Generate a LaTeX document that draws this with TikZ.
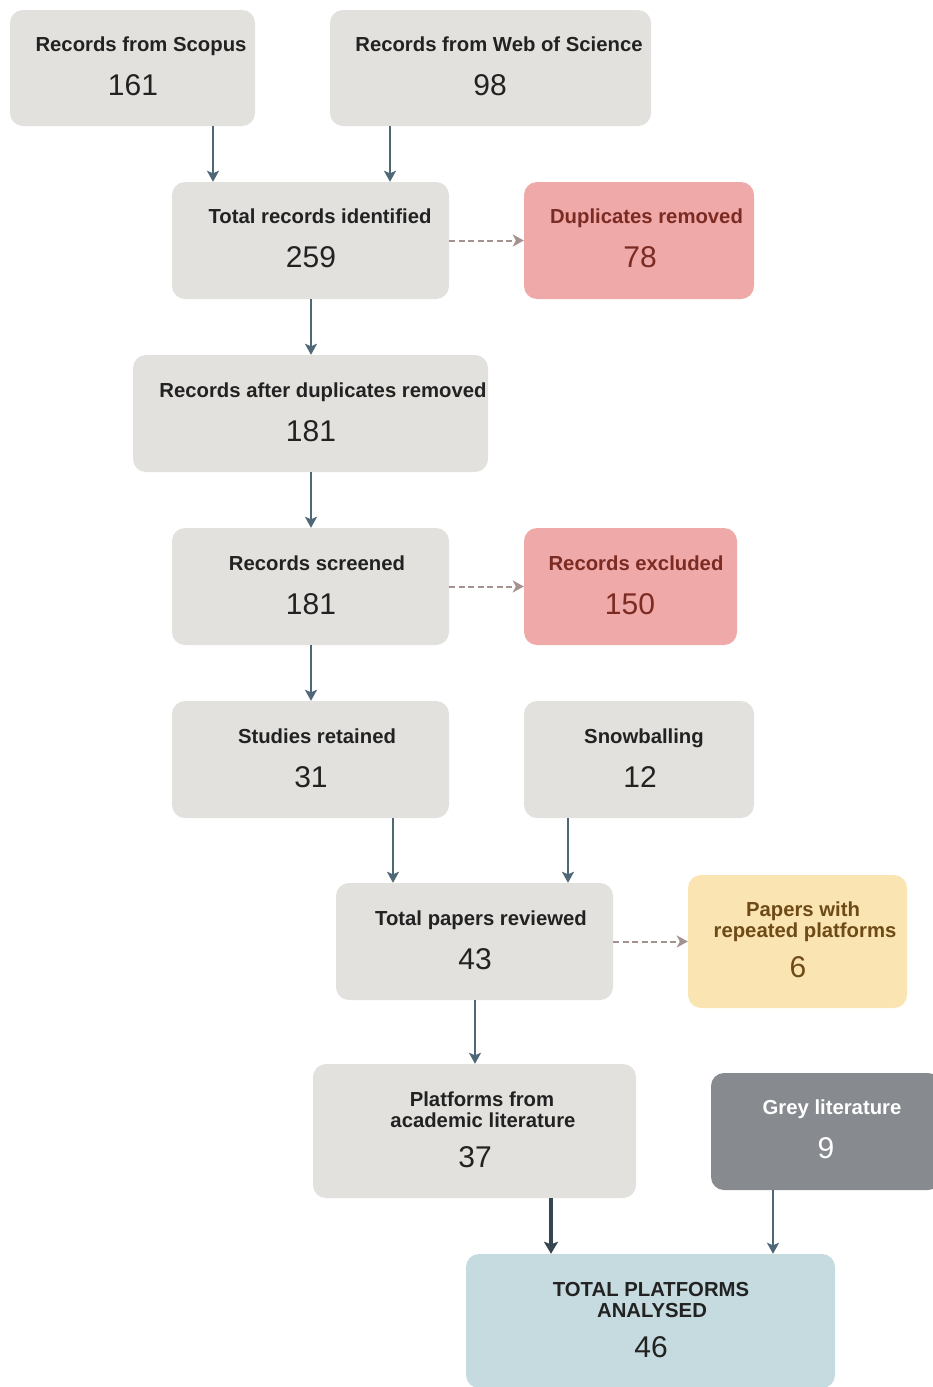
\documentclass[tikz,border=0pt]{standalone}
\usepackage{fontspec}
\setmainfont{Liberation Sans}
\usetikzlibrary{arrows.meta}
\definecolor{boxgrey}{HTML}{E2E1DD}
\definecolor{txtdark}{HTML}{222222}
\definecolor{pinkfill}{HTML}{EFA9A9}
\definecolor{pinktxt}{HTML}{7B2B22}
\definecolor{yelfill}{HTML}{FAE5B2}
\definecolor{yeltxt}{HTML}{6E4A16}
\definecolor{darkfill}{HTML}{878B8F}
\definecolor{bluefill}{HTML}{C5DBE0}
\definecolor{arrcol}{HTML}{4F6878}
\definecolor{dashcol}{HTML}{A39290}
\definecolor{thickcol}{HTML}{364650}
\tikzset{
  box/.style={rectangle, rounded corners=13pt, draw=none, inner sep=0pt, fill=boxgrey},
  pinkbox/.style={box, fill=pinkfill},
  yelbox/.style={box, fill=yelfill},
  darkbox/.style={box, fill=darkfill},
  bluebox/.style={box, fill=bluefill},
  ttl/.style={anchor=base, inner sep=0pt, text=txtdark, font=\fontsize{20.3}{21}\selectfont\bfseries},
  num/.style={anchor=base, inner sep=0pt, text=txtdark, font=\fontsize{30}{30}\selectfont},
  arr/.style={draw=arrcol, line width=2.6pt, -{Stealth[length=11pt,width=12pt,inset=2.5pt]}},
  thickarr/.style={draw=thickcol, line width=4.5pt, -{Stealth[length=12pt,width=14pt,inset=2.5pt]}},
  dasharr/.style={draw=dashcol, line width=2pt, dash pattern=on 6pt off 3.5pt, -{Stealth[length=11pt,width=12pt,inset=3pt]}},
}
\begin{document}
\begin{tikzpicture}[x=1pt, y=-1pt]
\useasboundingbox (0,0) rectangle (933,1387);
\clip (0,0) rectangle (933,1387);
% boxes
\node[box, minimum width=245pt, minimum height=116pt] (scopus) at (132.5,68) {};
\node[box, minimum width=321pt, minimum height=116pt] (wos) at (490.5,68) {};
\node[box, minimum width=277pt, minimum height=117pt] (total) at (310.5,240.5) {};
\node[pinkbox, minimum width=230pt, minimum height=117pt] (dup) at (639,240.5) {};
\node[box, minimum width=355pt, minimum height=117pt] (after) at (310.5,413.5) {};
\node[box, minimum width=277pt, minimum height=117pt] (screened) at (310.5,586.5) {};
\node[pinkbox, minimum width=213pt, minimum height=117pt] (excl) at (630.5,586.5) {};
\node[box, minimum width=277pt, minimum height=117pt] (studies) at (310.5,759.5) {};
\node[box, minimum width=230pt, minimum height=117pt] (snow) at (639,759.5) {};
\node[box, minimum width=277pt, minimum height=117pt] (papers) at (474.5,941.5) {};
\node[yelbox, minimum width=219pt, minimum height=133pt] (rep) at (797.5,941.5) {};
\node[box, minimum width=323pt, minimum height=134pt] (plat) at (474.5,1131) {};
\node[darkbox, minimum width=230pt, minimum height=117pt] (grey) at (826,1131.5) {};
\node[bluebox, minimum width=369pt, minimum height=134pt] (tp) at (650.5,1321) {};
% texts
\node[ttl] (scopusT) at (141,51) {Records from Scopus};
\node[num] (scopusN) at (133,95) {161};
\node[ttl] (wosT) at (499,51) {Records from Web of Science};
\node[num] (wosN) at (490,95) {98};
\node[ttl] (totalT) at (320,223) {Total records identified};
\node[num] (totalN) at (311,267) {259};
\node[ttl, text=pinktxt] (dupT) at (646.5,223) {Duplicates removed};
\node[num, text=pinktxt] (dupN) at (640,267) {78};
\node[ttl] (afterT) at (323,397) {Records after duplicates removed};
\node[num] (afterN) at (311,441) {181};
\node[ttl] (screenedT) at (317,570) {Records screened};
\node[num] (screenedN) at (311,614) {181};
\node[ttl, text=pinktxt] (exclT) at (636,570) {Records excluded};
\node[num, text=pinktxt] (exclN) at (630,614) {150};
\node[ttl] (studiesT) at (317,743) {Studies retained};
\node[num] (studiesN) at (311,787) {31};
\node[ttl] (snowT) at (644,743) {Snowballing};
\node[num] (snowN) at (640,787) {12};
\node[ttl] (papersT) at (481,925) {Total papers reviewed};
\node[num] (papersN) at (475,969) {43};
\node[ttl, text=yeltxt] (repT1) at (803,916) {Papers with};
\node[ttl, text=yeltxt] (repT2) at (805,937) {repeated platforms};
\node[num, text=yeltxt] (repN) at (798,977) {6};
\node[ttl] (platT1) at (482,1106) {Platforms from};
\node[ttl] (platT2) at (483,1127) {academic literature};
\node[num] (platN) at (475,1167) {37};
\node[ttl, text=white] (greyT) at (832,1114) {Grey literature};
\node[num, text=white] (greyN) at (826,1158) {9};
\node[ttl] (tpT1) at (651,1296) {TOTAL PLATFORMS};
\node[ttl] (tpT2) at (652,1317) {ANALYSED};
\node[num] (tpN) at (651,1357) {46};
% connector columns
\coordinate (c1) at (213,0);
\coordinate (c2) at (390,0);
\coordinate (c3) at (311,0);
\coordinate (c4) at (393,0);
\coordinate (c5) at (568,0);
\coordinate (c6) at (475,0);
\coordinate (c7) at (551,0);
\coordinate (c8) at (773,0);
% connectors
\draw[arr] (scopus.south -| c1) -- (total.north -| c1);
\draw[arr] (wos.south -| c2) -- (total.north -| c2);
\draw[dasharr] (total.east) -- (dup.west);
\draw[arr] (total.south -| c3) -- (after.north -| c3);
\draw[arr] (after.south -| c3) -- (screened.north -| c3);
\draw[dasharr] (screened.east) -- (excl.west);
\draw[arr] (screened.south -| c3) -- (studies.north -| c3);
\draw[arr] (studies.south -| c4) -- (papers.north -| c4);
\draw[arr] (snow.south -| c5) -- (papers.north -| c5);
\draw[dasharr] (papers.east) -- (rep.west);
\draw[arr] (papers.south -| c6) -- (plat.north -| c6);
\draw[thickarr] (plat.south -| c7) -- (tp.north -| c7);
\draw[arr] (grey.south -| c8) -- (tp.north -| c8);
\end{tikzpicture}
\end{document}
